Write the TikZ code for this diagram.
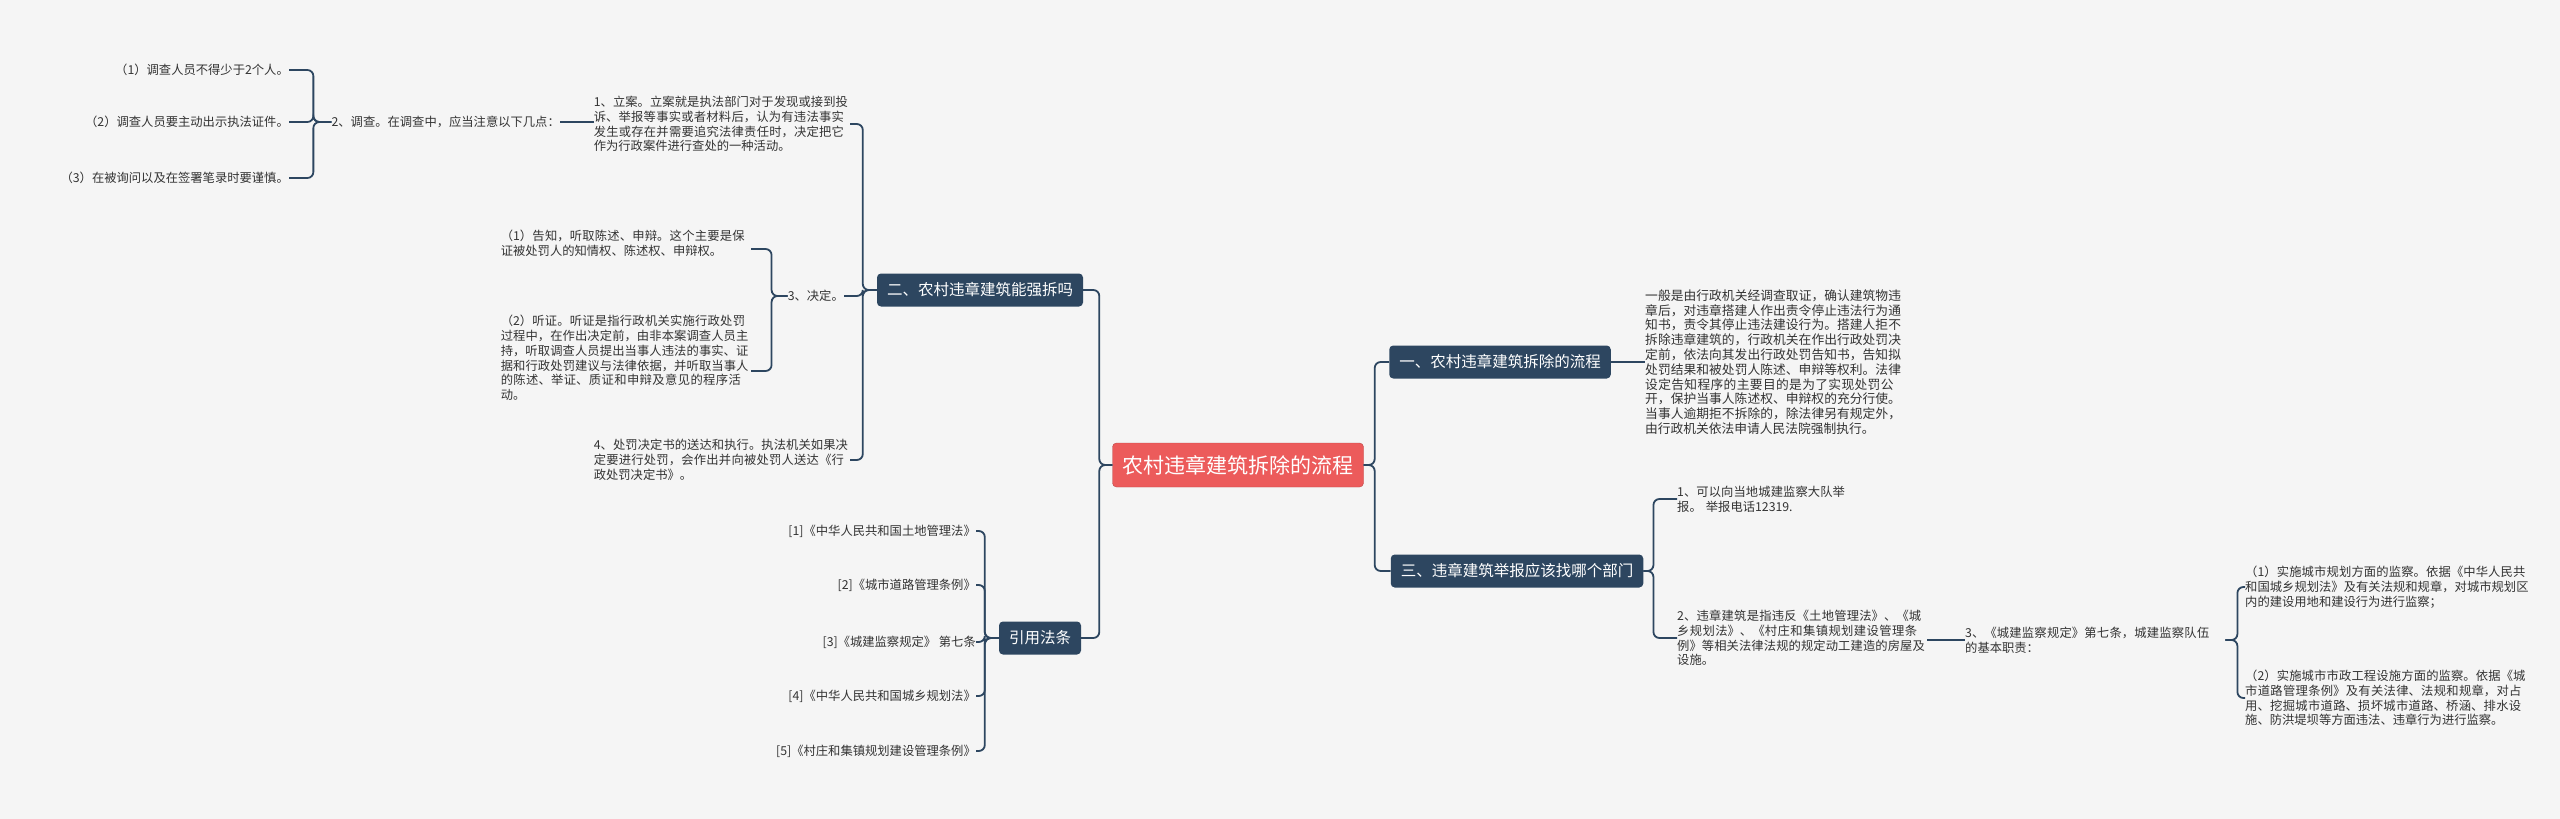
\documentclass[tikz,border=0pt]{standalone}
\usepackage{fontspec}
\setmainfont{Noto Sans CJK SC}
\XeTeXlinebreaklocale "zh"
\XeTeXlinebreakskip = 0pt plus 1pt
\usetikzlibrary{positioning}
\definecolor{bgc}{HTML}{F5F5F5}
\definecolor{navy}{HTML}{2D4660}
\definecolor{rootred}{HTML}{EC5B5B}
\definecolor{txt}{HTML}{333333}

\begin{document}
\begin{tikzpicture}[x=1pt,y=-1pt,
  leaf/.style={font=\fontsize{12.3}{14.8}\selectfont, text=txt, inner sep=0pt, align=left},
  rleaf/.style={leaf, align=right, anchor=east},
  branch/.style={fill=navy, text=white, rounded corners=4pt, font=\fontsize{15.5}{18}\selectfont,
    inner xsep=10pt, minimum height=33pt},
  root/.style={fill=rootred, draw=rootred!80!black, text=white, rounded corners=4pt,
    font=\fontsize{21}{24}\selectfont, inner xsep=10pt, minimum height=44pt},
  link/.style={draw=navy, line width=1.8pt, rounded corners=6pt},
]
\useasboundingbox[fill=bgc] (0,0) rectangle (2560,819);

%--- root and main branches ---------------------------------------------
\node[root] (root) at (1238,465) {农村违章建筑拆除的流程};
\node[branch] (b1) at (1500,362) {一、农村违章建筑拆除的流程};
\node[branch] (b3) at (1517,571) {三、违章建筑举报应该找哪个部门};
\node[branch] (b2) at (980,290) {二、农村违章建筑能强拆吗};
\node[branch] (law) at (1040,638) {引用法条};

\draw[link] (root.east) -- ++(11,0) |- (b1.west);
\draw[link] (root.east) -- ++(11,0) |- (b3.west);
\draw[link] (root.west) -- ++(-13,0) |- (b2.east);
\draw[link] (root.west) -- ++(-13,0) |- (law.east);

%--- branch one ----------------------------------------------------------
\node[leaf, text width=257pt, anchor=west, font=\fontsize{12.75}{14.8}\selectfont] (t1) at (1645,362)
  {一般是由行政机关经调查取证，确认建筑物违章后，对违章搭建人作出责令停止违法行为通知书，责令其停止违法建设行为。搭建人拒不拆除违章建筑的，行政机关在作出行政处罚决定前，依法向其发出行政处罚告知书，告知拟处罚结果和被处罚人陈述、申辩等权利。法律设定告知程序的主要目的是为了实现处罚公开，保护当事人陈述权、申辩权的充分行使。当事人逾期拒不拆除的，除法律另有规定外，由行政机关依法申请人民法院强制执行。};
\draw[link] (b1.east) -- (t1.west);

%--- branch three --------------------------------------------------------
\node[leaf, text width=170pt, anchor=west] (r1) at (1677,499) {1、可以向当地城建监察大队举报。 举报电话12319.};
\node[leaf, text width=250pt, anchor=west] (r2) at (1677,638) {2、违章建筑是指违反《土地管理法》、《城乡规划法》、《村庄和集镇规划建设管理条例》等相关法律法规的规定动工建造的房屋及设施。};
\node[leaf, text width=250pt, anchor=west] (r3) at (1965,640) {3、《城建监察规定》第七条，城建监察队伍的基本职责：};
\node[leaf, text width=284pt, anchor=west] (r31) at (2245,587) {（1）实施城市规划方面的监察。依据《中华人民共和国城乡规划法》及有关法规和规章，对城市规划区内的建设用地和建设行为进行监察；};
\node[leaf, text width=284pt, anchor=west] (r32) at (2245,698) {（2）实施城市市政工程设施方面的监察。依据《城市道路管理条例》及有关法律、法规和规章，对占用、挖掘城市道路、损坏城市道路、桥涵、排水设施、防洪堤坝等方面违法、违章行为进行监察。};
\draw[link] (b3.east) -- ++(10,0) |- (r1.west);
\draw[link] (b3.east) -- ++(10,0) |- (r2.west);
\draw[link] (r2.east) ++(0,2) -- (r3.west);
\draw[link] (r3.east) ++(10,0) -- ++(12,0) |- (r31.west);
\draw[link] (r3.east) ++(10,0) -- ++(12,0) |- (r32.west);

%--- branch two ----------------------------------------------------------
\node[leaf, text width=256pt, anchor=east] (l1) at (850,124) {1、立案。立案就是执法部门对于发现或接到投诉、举报等事实或者材料后，认为有违法事实发生或存在并需要追究法律责任时，决定把它作为行政案件进行查处的一种活动。};
\node[rleaf] (l2) at (560,122) {2、调查。在调查中，应当注意以下几点：};
\node[rleaf] (l21) at (289,70) {（1）调查人员不得少于2个人。};
\node[rleaf] (l22) at (289,122) {（2）调查人员要主动出示执法证件。};
\node[rleaf] (l23) at (289,178) {（3）在被询问以及在签署笔录时要谨慎。};
\node[rleaf] (l3) at (844,296) {3、决定。};
\node[leaf, text width=250pt, anchor=east] (l31) at (751,243) {（1）告知，听取陈述、申辩。这个主要是保证被处罚人的知情权、陈述权、申辩权。};
\node[leaf, text width=250pt, anchor=east] (l32) at (751,358) {（2）听证。听证是指行政机关实施行政处罚过程中，在作出决定前，由非本案调查人员主持，听取调查人员提出当事人违法的事实、证据和行政处罚建议与法律依据，并听取当事人的陈述、举证、质证和申辩及意见的程序活动。};
\node[leaf, text width=256pt, anchor=east] (l4) at (850,460) {4、处罚决定书的送达和执行。执法机关如果决定要进行处罚，会作出并向被处罚人送达《行政处罚决定书》。};

\draw[link] (b2.west) -- ++(-14,0) |- (l1.east);
\draw[link] (b2.west) -- ++(-14,0) |- (l3.east);
\draw[link] (b2.west) -- ++(-14,0) |- (l4.east);
\draw[link] (l1.west) ++(0,-2) -- (l2.east);
\foreach \n in {l21,l22,l23}{
  \draw[link] (l2.west) -- ++(-18,0) |- (\n.east);
}
\draw[link] (l3.west) -- ++(-16,0) |- ([yshift=-6pt]l31.east);
\draw[link] (l3.west) -- ++(-16,0) |- ([yshift=-13pt]l32.east);

%--- cited laws -----------------------------------------------------------
\node[rleaf] (c1) at (976,531) {[1]《中华人民共和国土地管理法》};
\node[rleaf] (c2) at (976,585) {[2]《城市道路管理条例》};
\node[rleaf] (c3) at (976,642) {[3]《城建监察规定》 第七条};
\node[rleaf] (c4) at (976,696) {[4]《中华人民共和国城乡规划法》};
\node[rleaf] (c5) at (976,751) {[5]《村庄和集镇规划建设管理条例》};
\foreach \n in {c1,c2,c3,c4,c5}{
  \draw[link] (law.west) -- ++(-14,0) |- (\n.east);
}

\end{tikzpicture}
\end{document}
